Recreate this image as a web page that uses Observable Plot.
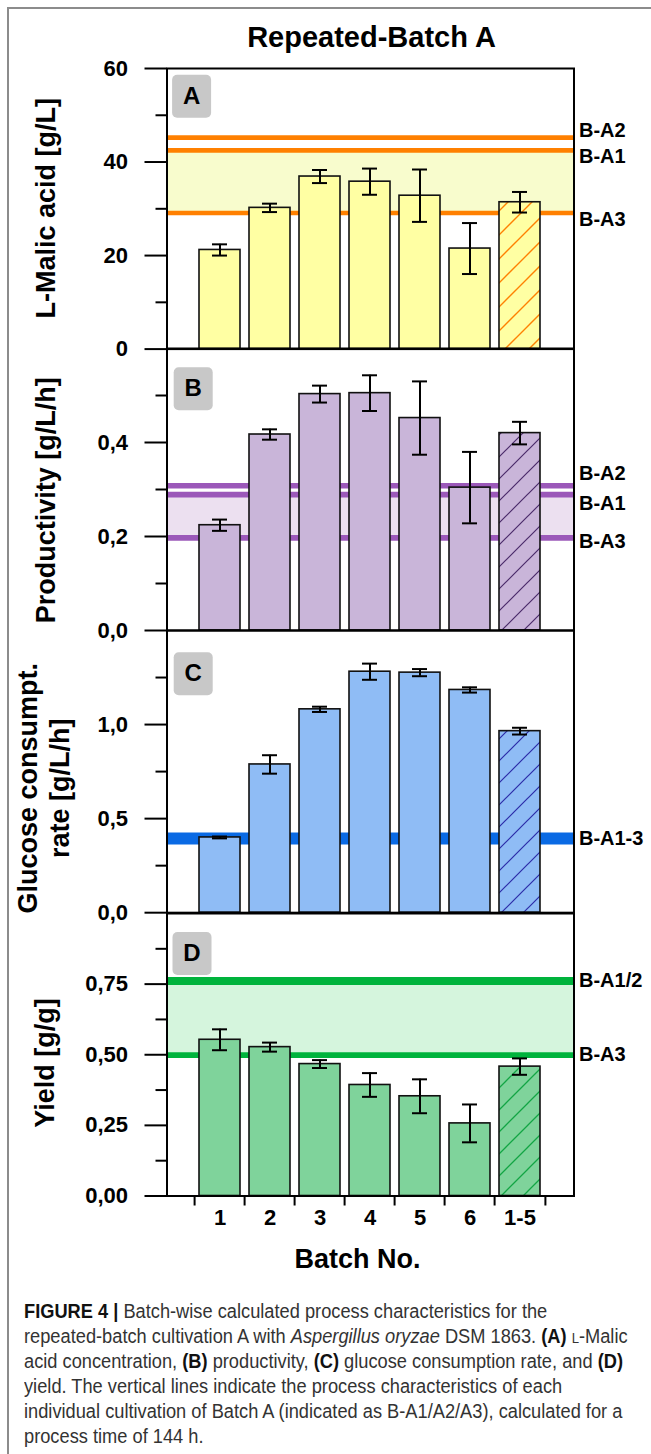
<!DOCTYPE html>
<html>
<head>
<meta charset="utf-8">
<script src="https://cdn.jsdelivr.net/npm/d3@7"></script>
<script src="https://cdn.jsdelivr.net/npm/@observablehq/plot@0.6"></script>
<style>
  html, body { margin: 0; padding: 0; background: #fff; }
  body { width: 651px; height: 1454px; overflow: hidden; position: relative; font-family: "Liberation Sans", Arial, sans-serif; }
  #border { position: absolute; left: 7px; top: 7px; width: 720px; height: 1520px; border-left: 2px solid #8c8c8c; border-top: 2px solid #8c8c8c; }
  #title { position: absolute; left: 0; width: 743px; top: 23px; text-align: center; font-size: 29px; line-height: 29px; font-weight: bold; color: #000; }
  #caption { position: absolute; left: 24px; top: 1299px; font-size: 19.5px; line-height: 25px; color: #333; white-space: nowrap; transform-origin: 0 0; }
  #caption b { color: #111; }
  .sc { font-variant: small-caps; }
</style>
</head>
<body>
<svg width="0" height="0" style="position:absolute">
  <defs>
    <pattern id="hatchA" patternUnits="userSpaceOnUse" width="24" height="24">
      <rect width="24" height="24" fill="#ffffa3"/>
      <path d="M-6,6 L6,-6 M0,24 L24,0 M18,30 L30,18" stroke="#ff8000" stroke-width="1.4"/>
    </pattern>
    <pattern id="hatchB" patternUnits="userSpaceOnUse" width="22" height="22">
      <rect width="22" height="22" fill="#c9b5d9"/>
      <path d="M-5.5,5.5 L5.5,-5.5 M0,22 L22,0 M16.5,27.5 L27.5,16.5" stroke="#4a2a6a" stroke-width="1.2"/>
    </pattern>
    <pattern id="hatchC" patternUnits="userSpaceOnUse" width="22" height="22">
      <rect width="22" height="22" fill="#8fbcf5"/>
      <path d="M-5.5,5.5 L5.5,-5.5 M0,22 L22,0 M16.5,27.5 L27.5,16.5" stroke="#2a2aa8" stroke-width="1.2"/>
    </pattern>
    <pattern id="hatchD" patternUnits="userSpaceOnUse" width="22" height="22">
      <rect width="22" height="22" fill="#7fd39b"/>
      <path d="M-5.5,5.5 L5.5,-5.5 M0,22 L22,0 M16.5,27.5 L27.5,16.5" stroke="#12a544" stroke-width="1.3"/>
    </pattern>
  </defs>
</svg>
<div id="border"></div>
<div id="title">Repeated-Batch A</div>
<div id="chart"></div>
<div id="caption"><span class="ln"><b>FIGURE 4 |</b> Batch-wise calculated process characteristics for the</span><br><span class="ln">repeated-batch cultivation A with <i>Aspergillus oryzae</i> DSM 1863. <b>(A)</b> <span class="sc">l</span>-Malic</span><br><span class="ln">acid concentration, <b>(B)</b> productivity, <b>(C)</b> glucose consumption rate, and <b>(D)</b></span><br><span class="ln">yield. The vertical lines indicate the process characteristics of each</span><br><span class="ln">individual cultivation of Batch A (indicated as B-A1/A2/A3), calculated for a</span><br><span class="ln">process time of 144 h.</span></div>
<script>
// ---------- data ----------
const batches = ["1", "2", "3", "4", "5", "6", "1-5"];

const malicMean = [21.2, 30.2, 36.9, 35.8, 32.8, 21.5, 31.4];
const malicErr  = [1.2, 0.9, 1.4, 2.8, 5.6, 5.45, 2.2];
const malicRefNames  = ["B-A2", "B-A1", "B-A3"];
const malicRefValues = [45.2, 42.5, 29.1];

const prodMean = [0.224, 0.417, 0.503, 0.505, 0.452, 0.304, 0.420];
const prodErr  = [0.012, 0.011, 0.018, 0.038, 0.078, 0.076, 0.024];
const prodRefNames  = ["B-A2", "B-A1", "B-A3"];
const prodRefValues = [0.308, 0.289, 0.197];

const glucMean = [0.400, 0.788, 1.081, 1.281, 1.276, 1.184, 0.965];
const glucErr  = [0.005, 0.049, 0.014, 0.043, 0.019, 0.014, 0.018];
const glucRefNames  = ["B-A1-3"];
const glucRefValues = [0.394];

const yieldMean = [0.553, 0.527, 0.467, 0.393, 0.353, 0.257, 0.458];
const yieldErr  = [0.037, 0.016, 0.014, 0.042, 0.060, 0.067, 0.029];
const yieldRefNames  = ["B-A1/2", "B-A3"];
const yieldRefValues = [0.761, 0.499];

const ticksA = [0, 20, 40, 60],          minorA = [10, 30, 50];
const ticksB = [0, 0.2, 0.4],            minorB = [0.1, 0.3, 0.5];
const ticksC = [0, 0.5, 1.0],            minorC = [0.25, 0.75, 1.25];
const ticksD = [0, 0.25, 0.5, 0.75],     minorD = [0.125, 0.375, 0.625, 0.875];

// ---------- layout / style ----------
const W = 651, ML = 166.5, MR = 77.5, PAD = 30, BOTTOM = 100;
const FONT = "'Liberation Sans', Arial, sans-serif";
const comma = (digits) => (d) => d.toFixed(digits).replace(".", ",");

const panels = [
  {
    letter: "A", mean: malicMean, err: malicErr, refNames: malicRefNames, refValues: malicRefValues,
    bandFrom: "B-A3", bandTo: "B-A1", domain: [0, 60], major: ticksA, minor: minorA, fmt: comma(0),
    barColor: "#ffffa3", hatch: "url(#hatchA)", lineColor: "#ff8000", bandColor: "#f8fccd",
    lineWidths: [4.7, 4.7, 4.7], labelDy: [-7, 6, 7],
    top: 67.7, h: 280.6, letterDx: 24.6, letterDy: 27.8,
    ylabel: [{text: "L-Malic acid [g/L]", x: 45.5, y: 207.5}]
  },
  {
    letter: "B", mean: prodMean, err: prodErr, refNames: prodRefNames, refValues: prodRefValues,
    bandFrom: "B-A3", bandTo: "B-A1", domain: [0, 0.6], major: ticksB, minor: minorB, fmt: comma(1),
    barColor: "#c9b5d9", hatch: "url(#hatchB)", lineColor: "#9b58b9", bandColor: "#ece0f0",
    lineWidths: [5.7, 5.7, 5.7], labelDy: [-12, 9, 4],
    top: 348.3, h: 282, letterDx: 26.2, letterDy: 40.2,
    ylabel: [{text: "Productivity [g/L/h]", x: 45.5, y: 500}]
  },
  {
    letter: "C", mean: glucMean, err: glucErr, refNames: glucRefNames, refValues: glucRefValues,
    bandFrom: null, bandTo: null, domain: [0, 1.5], major: ticksC, minor: minorC, fmt: comma(1),
    barColor: "#8fbcf5", hatch: "url(#hatchC)", lineColor: "#0a6ae4", bandColor: null,
    lineWidths: [12], labelDy: [0],
    top: 630.3, h: 282.2, letterDx: 26.2, letterDy: 43.2,
    ylabel: [{text: "Glucose consumpt.", x: 28, y: 788}, {text: "rate [g/L/h]", x: 60, y: 788}]
  },
  {
    letter: "D", mean: yieldMean, err: yieldErr, refNames: yieldRefNames, refValues: yieldRefValues,
    bandFrom: "B-A3", bandTo: "B-A1/2", domain: [0, 1], major: ticksD, minor: minorD, fmt: comma(2),
    barColor: "#7fd39b", hatch: "url(#hatchD)", lineColor: "#00b33c", bandColor: "#d5f5dd",
    lineWidths: [8, 5.7], labelDy: [0, 0],
    top: 912.5, h: 282.5, letterDx: 25, letterDy: 40,
    ylabel: [{text: "Yield [g/g]", x: 44.5, y: 1062}]
  }
];

function letterBox(letter, dx, dy) {
  const bw = 39, bh = 43;
  const num = (v) => (v != null && /^-?[\d.]+$/.test(v.trim()) ? +v : 0);
  return Plot.text([letter], {
    text: (d) => d, frameAnchor: "top-left", dx, dy, fontSize: 24, fontWeight: "bold",
    fill: "black", textAnchor: "middle", lineAnchor: "middle",
    render(index, scales, values, dimensions, context, next) {
      const g = next(index, scales, values, dimensions, context);
      const t = g.querySelector("text");
      const r = document.createElementNS("http://www.w3.org/2000/svg", "rect");
      const tr = t.getAttribute("transform");
      if (tr) r.setAttribute("transform", tr);
      const tx = num(t.getAttribute("x")), ty = num(t.getAttribute("y"));
      r.setAttribute("x", tx - bw / 2);
      r.setAttribute("y", ty - bh / 2);
      r.setAttribute("width", bw);
      r.setAttribute("height", bh);
      r.setAttribute("rx", 5);
      r.setAttribute("fill", "#c8c8c8");
      t.parentNode.insertBefore(r, t);
      return g;
    }
  });
}

const chart = document.getElementById("chart");

panels.forEach((p, pi) => {
  const isBottom = pi === panels.length - 1;
  const data = batches.map((b, i) => ({batch: b, mean: p.mean[i], err: p.err[i]}));
  const refs = p.refNames.map((n, i) => ({name: n, value: p.refValues[i]}));
  const marks = [];

  if (p.bandFrom) {
    const lo = p.refValues[p.refNames.indexOf(p.bandFrom)];
    const hi = p.refValues[p.refNames.indexOf(p.bandTo)];
    marks.push(Plot.rect([{lo, hi}], {y1: "lo", y2: "hi", fill: p.bandColor}));
  }
  refs.forEach((r, i) => marks.push(Plot.ruleY([r], {y: "value", stroke: p.lineColor, strokeWidth: p.lineWidths[i]})));

  marks.push(Plot.barY(data.filter((d) => d.batch !== "1-5"), {x: "batch", y: "mean", fill: p.barColor, stroke: "#111", strokeWidth: 1.6}));
  marks.push(Plot.barY(data.filter((d) => d.batch === "1-5"), {x: "batch", y: "mean", fill: p.hatch, stroke: "#111", strokeWidth: 1.6}));

  marks.push(Plot.ruleX(data, {x: "batch", y1: (d) => d.mean - d.err, y2: (d) => d.mean + d.err, stroke: "black", strokeWidth: 2}));
  marks.push(Plot.tickY(data, {x: "batch", y: (d) => d.mean + d.err, inset: 13, stroke: "black", strokeWidth: 2}));
  marks.push(Plot.tickY(data, {x: "batch", y: (d) => d.mean - d.err, inset: 13, stroke: "black", strokeWidth: 2}));

  refs.forEach((r, i) => marks.push(Plot.text([r], {
    y: "value", text: "name", frameAnchor: "right", textAnchor: "start", dx: 5, dy: p.labelDy[i],
    fontSize: 20, fontWeight: "bold", fill: "black"
  })));

  marks.push(Plot.axisY({ticks: p.major, tickSize: 22, tickPadding: 17, tickFormat: p.fmt, strokeWidth: 2, fontSize: 22, fontWeight: "bold", fill: "black", label: null}));
  marks.push(Plot.axisY({ticks: p.minor, tickSize: 11, strokeWidth: 2, fill: "none", label: null}));

  p.ylabel.forEach((l) => marks.push(Plot.text([l.text], {
    text: (d) => d, frameAnchor: "left", dx: l.x - ML, dy: l.y - (p.top + p.h / 2),
    rotate: -90, fontSize: 27, fontWeight: "bold", fill: "black", textAnchor: "middle", lineAnchor: "middle"
  })));

  marks.push(letterBox(p.letter, p.letterDx, p.letterDy));

  if (isBottom) {
    const step = (W - ML - MR - 25.2 - 26.1) / batches.length;
    marks.push(Plot.axisX({tickSize: 0, tickPadding: 13, fontSize: 22, fontWeight: "bold", fill: "black", label: null}));
    marks.push(Plot.axisX({tickSize: 10, strokeWidth: 2, fill: "none", dx: -step / 2, label: null}));
    marks.push(Plot.axisX(["1-5"], {tickSize: 10, strokeWidth: 2, fill: "none", dx: step / 2, label: null}));
    marks.push(Plot.text(["Batch No."], {
      text: (d) => d, frameAnchor: "bottom", dx: -13, dy: 63, fontSize: 27, fontWeight: "bold",
      fill: "black", textAnchor: "middle", lineAnchor: "middle"
    }));
  }

  marks.push(Plot.frame({stroke: "black", strokeWidth: 2}));

  const svg = Plot.plot({
    width: W,
    height: PAD + p.h + (isBottom ? BOTTOM : PAD),
    marginTop: PAD,
    marginBottom: isBottom ? BOTTOM : PAD,
    marginLeft: ML,
    marginRight: MR,
    x: {domain: batches, paddingInner: 0.187, paddingOuter: 0.0935, insetLeft: 25.2, insetRight: 26.1, axis: isBottom ? undefined : null},
    y: {domain: p.domain},
    style: {fontFamily: FONT, fontSize: "22px", fontWeight: "bold", background: "none", overflow: "visible", color: "black"},
    marks
  });
  svg.style.position = "absolute";
  svg.style.left = "0px";
  svg.style.top = (p.top - PAD) + "px";
  chart.appendChild(svg);
});

// fit caption width to the reference wrapping
const cap = document.getElementById("caption");
const lines = cap.querySelectorAll(".ln");
const w3 = lines[2].getBoundingClientRect().width;
cap.style.transform = `scaleX(${599 / w3})`;
</script>
</body>
</html>
